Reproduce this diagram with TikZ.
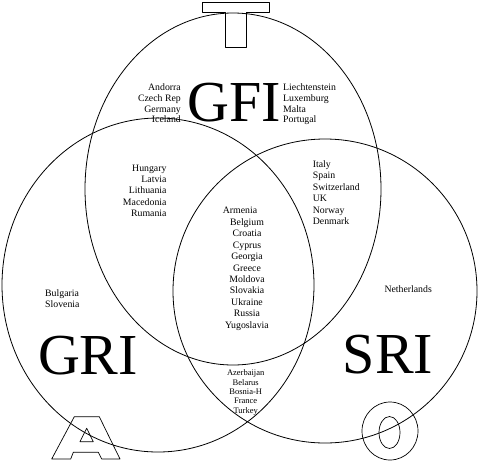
\documentclass[tikz,border=0pt]{standalone}
\usepackage{fontspec}
\setmainfont{Liberation Serif}
\usepackage{tikz}
\usetikzlibrary{positioning}

\tikzset{
	region/.style={draw=black, line width=0.8pt},
	glyph/.style={draw=black, line width=0.7pt, line join=round},
	country/.style={font=\fontsize{9.8}{11}\selectfont, inner sep=0pt},
	smallcountry/.style={font=\fontsize{8.5}{9.4}\selectfont, inner sep=0pt},
	biglabel/.style={font=\fontsize{58}{58}\selectfont, inner sep=0pt, anchor=base},
}

\begin{document}
\begin{tikzpicture}[x=1pt, y=-1pt]
\useasboundingbox (0,0) rectangle (479,461);

% ---- the three sets ----
\draw[region] (233,189) ellipse [x radius=148, y radius=176];
\draw[region] (158,285) ellipse [x radius=156, y radius=167];
\draw[region] (325,291) ellipse [x radius=152, y radius=152];

% ---- outlined letters T, A, O ----
\draw[glyph] (202,2) -- (269,2) -- (269,12.5) -- (246,12.5) -- (246,47)
	-- (225,47) -- (225,12.5) -- (202,12.5) -- cycle;
\draw[glyph] (51.7,459) -- (74.3,416.7) -- (99.3,416.7) -- (120,459)
	-- (101.7,459) -- (98.3,452.3) -- (73.3,452.3) -- (70.7,459) -- cycle;
\draw[glyph] (86.7,428.3) -- (93.3,441.7) -- (80,441.7) -- cycle;
\draw[glyph] (390,431) ellipse [x radius=28, y radius=29];
\draw[glyph] (389.5,432.5) ellipse [x radius=10.5, y radius=16];

% ---- set names ----
\node[biglabel] (gfi) at (234,121.7) {GFI};
\node[biglabel] (gri) at (88,374) {GRI};
\node[biglabel] (sri) at (388,373) {SRI};

% ---- countries ----
\foreach \name [count=\i] in {Andorra, Czech Rep, Germany, Iceland}
	\node[country, anchor=mid east] (gfiw-\i) at (181,{77.5+10.8*\i}) {\name};
\foreach \name [count=\i] in {Liechtenstein, Luxemburg, Malta, Portugal}
	\node[country, anchor=mid west] (gfie-\i) at (283,{77.5+10.8*\i}) {\name};
\foreach \name [count=\i] in {Hungary, Latvia, Lithuania, Macedonia, Rumania}
	\node[country, anchor=mid east] (gfgr-\i) at (166.7,{157.7+11.3*\i}) {\name};
\foreach \name [count=\i] in {Italy, Spain, Switzerland, UK, Norway, Denmark}
	\node[country, anchor=mid west] (gfsr-\i) at (312.7,{153.55+11.45*\i}) {\name};
\foreach \name/\dx [count=\i] in {Armenia/-7, Belgium/0, Croatia/0, Cyprus/0,
		Georgia/0, Greece/0, Moldova/0, Slovakia/0, Ukraine/0, Russia/0, Yugoslavia/0}
	\node[country, anchor=mid] (core-\i) at ({247+\dx},{200.3+11.4*\i}) {\name};
\foreach \name [count=\i] in {Azerbaijan, Belarus, Bosnia-H, France, Turkey}
	\node[smallcountry, anchor=mid] (grsr-\i) at (245.7,{363.9+9.4*\i}) {\name};
\foreach \name [count=\i] in {Bulgaria, Slovenia}
	\node[country, anchor=mid west] (gri-\i) at (45,{283.3+10.7*\i}) {\name};
\node[country, anchor=mid west] (sri-1) at (384.3,290) {Netherlands};
\end{tikzpicture}
\end{document}
